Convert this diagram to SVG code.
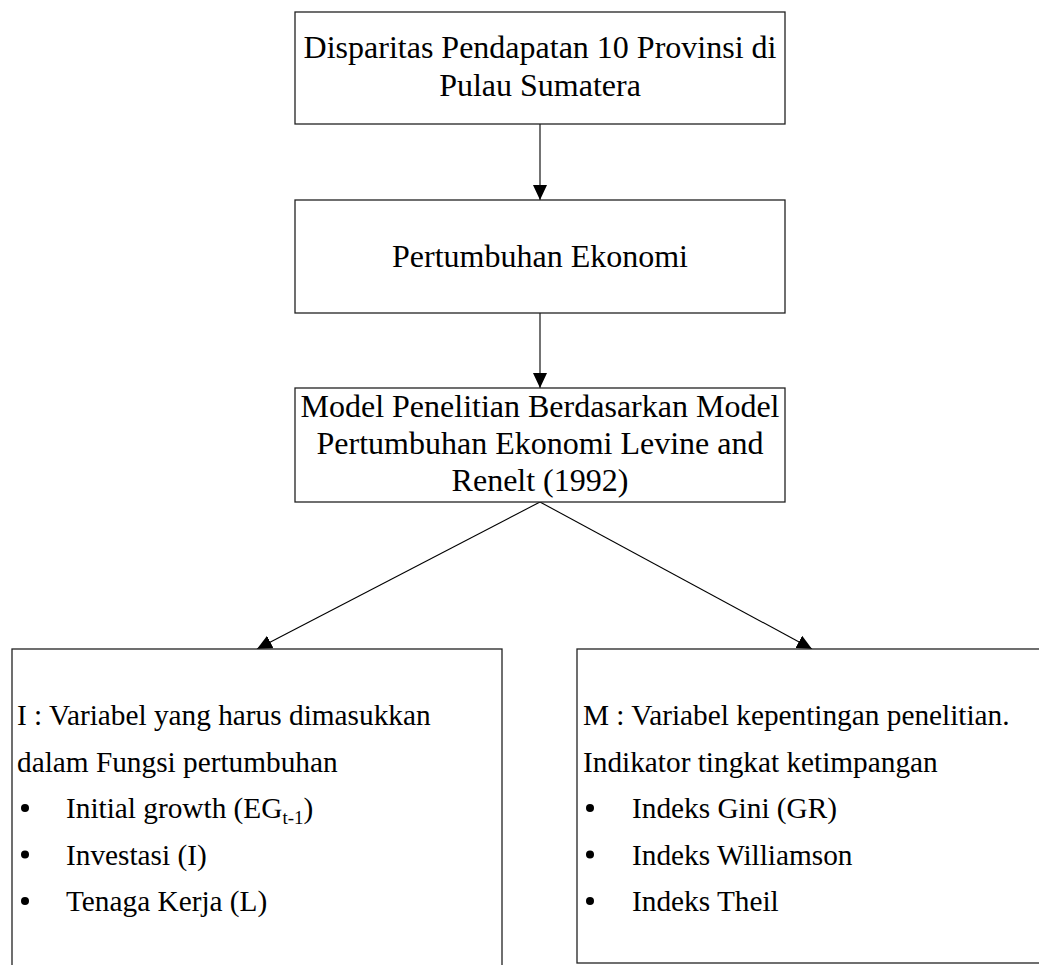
<svg xmlns="http://www.w3.org/2000/svg" width="1039" height="965" viewBox="0 0 1039 965">
  <style>
    .box { fill: #ffffff; stroke: #222222; stroke-width: 1.3; }
    .conn { stroke: #000000; stroke-width: 1.1; fill: none; }
    .t32 { font-family: "Liberation Serif", "Times New Roman", serif; font-size: 32px; fill: #000000; text-anchor: middle; }
    .t29 { font-family: "Liberation Serif", "Times New Roman", serif; font-size: 29.3px; fill: #000000; }
    .sub { font-size: 19px; }
    .dot { fill: #000000; }
  </style>
  <defs>
    <marker id="arrow" markerUnits="userSpaceOnUse" markerWidth="16" markerHeight="15" refX="15" refY="7" orient="auto">
      <path d="M0,0 L15,7 L0,14 z" fill="#000000"/>
    </marker>
  </defs>
  <rect width="1039" height="965" fill="#ffffff"/>

  <g id="connectors">
    <line class="conn" x1="540" y1="124" x2="540" y2="200" marker-end="url(#arrow)"/>
    <line class="conn" x1="540" y1="313" x2="540" y2="388" marker-end="url(#arrow)"/>
    <line class="conn" x1="540" y1="502" x2="257" y2="649" marker-end="url(#arrow)"/>
    <line class="conn" x1="540" y1="502" x2="812" y2="649" marker-end="url(#arrow)"/>
  </g>

  <g id="node-disparitas">
    <rect class="box" x="295" y="12" width="490" height="112"/>
    <text class="t32" x="540" y="58">Disparitas Pendapatan 10 Provinsi di</text>
    <text class="t32" x="540" y="96">Pulau Sumatera</text>
  </g>

  <g id="node-pertumbuhan">
    <rect class="box" x="295" y="200" width="490" height="113"/>
    <text class="t32" x="540" y="267">Pertumbuhan Ekonomi</text>
  </g>

  <g id="node-model">
    <rect class="box" x="295" y="388" width="490" height="114"/>
    <text class="t32" x="540" y="417">Model Penelitian Berdasarkan Model</text>
    <text class="t32" x="540" y="454">Pertumbuhan Ekonomi Levine and</text>
    <text class="t32" x="540" y="491">Renelt (1992)</text>
  </g>

  <g id="node-variabel-i">
    <rect class="box" x="12" y="649" width="490" height="340"/>
    <text class="t29" x="17" y="725">I : Variabel yang harus dimasukkan</text>
    <text class="t29" x="17" y="771.5">dalam Fungsi pertumbuhan</text>
    <circle class="dot" cx="25" cy="808" r="4"/>
    <text class="t29" x="66" y="818">Initial growth (EG<tspan class="sub" dy="6">t-1</tspan><tspan dy="-6">)</tspan></text>
    <circle class="dot" cx="25" cy="854.5" r="4"/>
    <text class="t29" x="66" y="864.5">Investasi (I)</text>
    <circle class="dot" cx="25" cy="901" r="4"/>
    <text class="t29" x="66" y="911">Tenaga Kerja (L)</text>
  </g>

  <g id="node-variabel-m">
    <rect class="box" x="577" y="649" width="480" height="314"/>
    <text class="t29" x="583" y="725">M : Variabel kepentingan penelitian.</text>
    <text class="t29" x="583" y="771.5">Indikator tingkat ketimpangan</text>
    <circle class="dot" cx="590" cy="808" r="4"/>
    <text class="t29" x="632" y="818">Indeks Gini (GR)</text>
    <circle class="dot" cx="590" cy="854.5" r="4"/>
    <text class="t29" x="632" y="864.5">Indeks Williamson</text>
    <circle class="dot" cx="590" cy="901" r="4"/>
    <text class="t29" x="632" y="911">Indeks Theil</text>
  </g>
</svg>
